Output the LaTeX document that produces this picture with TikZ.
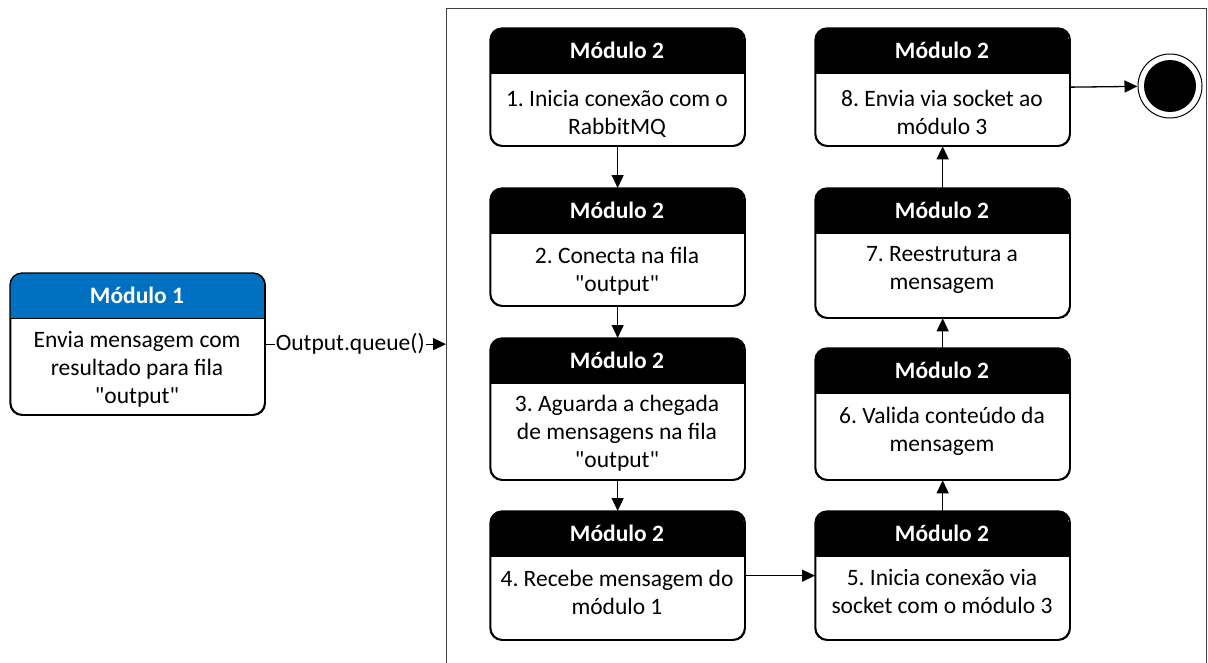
\documentclass[tikz,border=0pt]{standalone}
\usepackage{fontspec}
\setmainfont{Carlito}
\usetikzlibrary{arrows.meta}
\definecolor{modblue}{RGB}{0,112,192}
\newcommand\qq[1]{\textquotedbl#1\textquotedbl}
\tikzset{
  conn/.style={line width=1.3pt, -{Triangle[length=13pt,width=12pt]}},
  boxshape/.style={draw, fill=white, line width=1.3pt, rounded corners=12pt,
    minimum width=254pt, anchor=north west, inner sep=0pt},
  frameline/.style={line width=1.3pt, rounded corners=12pt},
  titletext/.style={font=\fontsize{23.5}{28}\selectfont\bfseries, text=white, inner sep=0pt},
  bodytext/.style={font=\fontsize{23.5}{28}\selectfont\frenchspacing, align=center, inner sep=0pt},
}
% #1 name, #2 left, #3 top, #4 bottom, #5 header colour, #6 title,
% #7 centre of the body text, #8 body text
\newcommand\modbox[8]{%
  \node[boxshape, minimum height={(#4-#3)*1pt}] (#1) at (#2,#3) {};
  \begin{scope}
    \clip[rounded corners=12pt] (#2,#3) rectangle ({#2+254},#4);
    \fill[#5] (#2,#3) rectangle ({#2+254},{#3+45});
  \end{scope}
  \draw[frameline] (#1.north west) rectangle (#1.south east);
  \draw[line width=0.8pt] (#2,{#3+45}) -- ({#2+254},{#3+45});
  \node[titletext] (#1-t) at ({#2+127},{#3+22.5}) {#6};
  \node[bodytext] (#1-b) at ({#2+127},#7) {#8};
}
\begin{document}
\begin{tikzpicture}[x=1pt,y=-1pt]
\useasboundingbox (0,0) rectangle (1208,662);

% swimlane frame of module 2
\node[draw=black!75, line width=1.3pt, minimum width=760pt, minimum height=720pt,
  anchor=north west, inner sep=0pt] (lane) at (446,8) {};

% module 1
\modbox{m1}{10}{273}{414}{modblue}{Módulo 1}{369}{Envia mensagem com\\resultado para fila\\\qq{output}}

% module 2, left column
\modbox{b1}{490}{28}{145}{black}{Módulo 2}{113.5}{1. Inicia conexão com o\\RabbitMQ}
\modbox{b2}{490}{188}{305}{black}{Módulo 2}{271}{2. Conecta na fila\\\qq{output}}
\modbox{b3}{490}{338}{479}{black}{Módulo 2}{433}{3. Aguarda a chegada\\de mensagens na fila\\\qq{output}}
\modbox{b4}{490}{511}{639}{black}{Módulo 2}{592}{4. Recebe mensagem do\\módulo 1}

% module 2, right column
\modbox{b5}{815}{511}{639}{black}{Módulo 2}{591.5}{5. Inicia conexão via\\socket com o módulo 3}
\modbox{b6}{815}{348}{479}{black}{Módulo 2}{431}{6. Valida conteúdo da\\mensagem}
\modbox{b7}{815}{188}{317}{black}{Módulo 2}{270}{7. Reestrutura a\\mensagem}
\modbox{b8}{815}{28}{145}{black}{Módulo 2}{112.5}{8. Envia via socket ao\\módulo 3}

% final state
\node[circle, draw, line width=1pt, minimum size=64pt, inner sep=0pt] (end) at (1170,86) {};
\node[circle, fill=black, minimum size=52pt, inner sep=0pt] (endcore) at (end) {};

% connectors
\draw[conn] (m1.east) -- (m1.east -| lane.west)
  node[pos=0.47, fill=white, inner sep=1pt, font=\fontsize{23.5}{28}\selectfont] (qlbl) {Output.queue()};
\draw[conn] (b1.south) -- (b2.north);
\draw[conn] (b2.south) -- (b3.north);
\draw[conn] (b3.south) -- (b4.north);
\draw[conn] (b4.east) -- (b5.west);
\draw[conn] (b5.north) -- (b6.south);
\draw[conn] (b6.north) -- (b7.south);
\draw[conn] (b7.north) -- (b8.south);
\draw[conn] (b8.east) -- (end);
\end{tikzpicture}
\end{document}
